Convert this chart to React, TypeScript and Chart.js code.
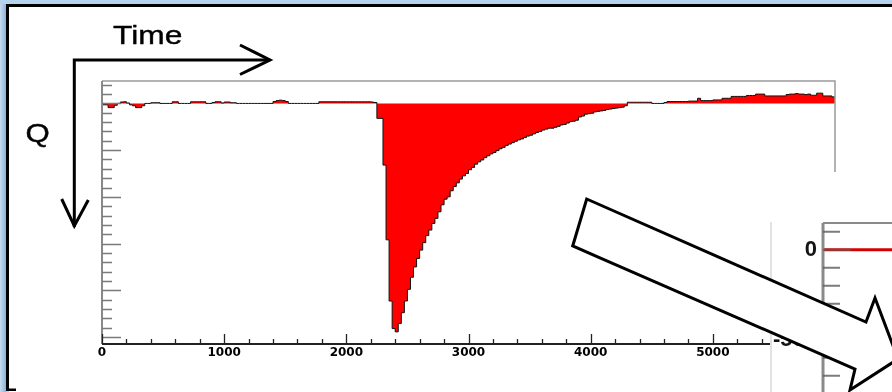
import React, { useEffect, useRef } from 'react';
import { Chart, registerables } from 'chart.js';

Chart.register(...registerables);

// ---------- main histogram data ----------
const timeStart = 0;
const binWidth = 25;
const qValues: number[] = [
  // 0 - 2225 : baseline
  -0.3, -0.3, -0.9, -0.9, -0.4, 0, 0.3, 0.35, 0.1, -0.3, -0.5, -0.9, -0.9, -0.5,
  0, 0, 0.15, 0.15, 0.15, 0, 0, 0, 0, 0.35, 0.35, 0, 0, 0,
  0, 0.35, 0.35, 0.35, 0.35, 0.35, 0, 0, 0.2, 0.35, 0.35, 0.1, 0.3, 0.3,
  0.15, 0.15, 0, 0, 0, 0, 0, 0, 0, 0, 0, 0, 0, 0,
  0.4, 0.6, 0.7, 0.6, 0.4,
  0, 0, 0, 0, 0, 0, 0, 0, 0, 0,
  0.35, 0.35, 0.35, 0.35, 0.35, 0.35, 0.35, 0.35, 0.35, 0.35, 0.35, 0.35, 0.35, 0.35, 0.35, 0.35, 0.35, 0.3, 0.2,
  // 2250 - 3075 : pulse
  -3.2, -3.2, -13.2, -29.2, -42.3, -48.2, -48.9, -47.1, -44.8, -42.3, -39.8, -37.2, -35, -33.2, -31.4, -29.8, -28.3,
  -27.1, -25.7, -24.6, -23.2, -21.7, -20.5, -20, -18.7, -17.8, -17, -16.2, -15.5, -15, -14.2, -13.7, -13, -12.5,
  // 3100 - 4275 : tail
  -12.1, -11.6, -11.2, -10.8, -10.5, -10.1, -9.7, -9.4, -9.0, -8.7, -8.4, -8.1, -7.8, -7.6, -7.3, -7.0, -6.8, -6.5, -6.2, -6.0,
  -5.7, -5.5, -5.3, -5.3, -5.1, -4.9, -4.6, -4.5, -4.2, -3.9, -3.8, -3.6,
  -2.9, -2.7, -2.3, -2.2, -2.1, -1.8, -1.7, -1.6, -1.5, -1.3, -1.2, -1.1, -1.0, -0.9, -0.8, -0.5,
  // 4300 - 5975 : overshoot
  0.25, 0.25, 0.25, 0.25, 0.25, 0.25, 0.25, 0.25,
  0, 0, 0, 0, 0.2,
  0.4, 0.4, 0.4, 0.4, 0.4, 0.4, 0.4,
  0.5, 0.5, 0.5, 1.1, 0.6, 0.6, 0.6, 0.6,
  0.75, 0.75, 0.75, 1.1, 1.1, 1.1,
  1.5, 1.5, 1.5, 1.5, 1.5, 1.7, 1.7, 1.7, 2.0, 2.0, 2.0,
  1.6, 1.6, 1.6, 1.6, 1.6, 1.6, 1.6,
  1.9, 2.0, 2.0, 2.1, 2.0, 2.0, 1.9, 2.0,
  1.75, 1.75, 2.2, 2.2, 1.6, 1.6, 1.6, 1.4,
];
const xRange = [0, 6000];
const xTickLabels = [0, 1000, 2000, 3000, 4000, 5000];
const xMinorStep = 200;
const xMajorStep = 1000;
const yRange = [-51.5, 4.8];
const yMinorStep = 2;
const yMajorStep = 10;

// ---------- inset (partially visible second plot) ----------
const insetTimes = [0, 6000];
const insetValues = [0, 0];
const insetTickLabels = [0, -500];
const insetRange = [-845, 148];
const insetMinorStep = 100;
const insetMajorStep = 500;

const slidePlugin = {
  id: 'slideFrame',
  beforeDraw(chart: any) {
    const { ctx, width, height } = chart;
    ctx.save();
    ctx.fillStyle = '#b6d3ee';
    ctx.fillRect(0, 0, width, height);
    const g = ctx.createLinearGradient(0, 0, 6, 0);
    g.addColorStop(0, '#c6dcf2');
    g.addColorStop(1, '#8db2d8');
    ctx.fillStyle = g;
    ctx.fillRect(0, 4, 6, height - 4);
    ctx.fillStyle = '#000';
    ctx.fillRect(6, 4, width - 6, 3);
    ctx.fillRect(6, 4, 3, 387);
    ctx.fillStyle = '#fff';
    ctx.fillRect(9, 7, width - 9, height - 7);
    ctx.fillStyle = '#000';
    ctx.fillRect(6, 388.5, 10, 2.5);
    ctx.restore();
  },
  afterDatasetsDraw(chart: any) {
    const { ctx, chartArea: ca } = chart;
    const xs = chart.scales.x;
    const ys = chart.scales.y;
    ctx.save();
    ctx.lineCap = 'butt';
    ctx.strokeStyle = '#9a9a9a';
    ctx.lineWidth = 1.5;
    ctx.beginPath();
    ctx.moveTo(ca.left, ca.top);
    ctx.lineTo(ca.right, ca.top);
    ctx.lineTo(ca.right, ca.bottom);
    ctx.stroke();
    ctx.strokeStyle = '#8a8a8a';
    ctx.lineWidth = 2;
    ctx.beginPath();
    ctx.moveTo(ca.left, ca.top);
    ctx.lineTo(ca.left, ca.bottom);
    ctx.stroke();
    ctx.lineWidth = 1.5;
    ctx.strokeStyle = '#7a7a7a';
    ctx.beginPath();
    for (let v = Math.ceil(ys.min / yMinorStep) * yMinorStep; v <= ys.max; v += yMinorStep) {
      const y = Math.round(ys.getPixelForValue(v)) + 0.5;
      const len = Math.abs(v % yMajorStep) < 1e-6 ? 19 : 10;
      ctx.moveTo(ca.left, y);
      ctx.lineTo(ca.left + len, y);
    }
    ctx.stroke();
    ctx.strokeStyle = '#222';
    ctx.lineWidth = 2;
    ctx.beginPath();
    ctx.moveTo(ca.left, ca.bottom);
    ctx.lineTo(ca.right, ca.bottom);
    ctx.stroke();
    ctx.lineWidth = 1.3;
    ctx.beginPath();
    for (let v = xs.min; v <= xs.max; v += xMinorStep) {
      const x = Math.round(xs.getPixelForValue(v)) + 0.5;
      const len = v % xMajorStep === 0 ? 10 : 5;
      ctx.moveTo(x, ca.bottom);
      ctx.lineTo(x, ca.bottom - len);
    }
    ctx.stroke();
    ctx.restore();
  },
};

const insetPlugin = {
  id: 'insetFrame',
  beforeDraw(chart: any) {
    const { ctx, width, height, chartArea: ca } = chart;
    ctx.save();
    ctx.fillStyle = '#fff';
    ctx.fillRect(0, 0, width, height);
    ctx.strokeStyle = '#e2e2e2';
    ctx.lineWidth = 2;
    ctx.beginPath();
    ctx.moveTo(1, ca.top - 1);
    ctx.lineTo(1, height);
    ctx.stroke();
    ctx.restore();
  },
  afterDatasetsDraw(chart: any) {
    const { ctx, chartArea: ca } = chart;
    const ys = chart.scales.y;
    ctx.save();
    ctx.strokeStyle = '#8a8a8a';
    ctx.lineWidth = 2;
    ctx.beginPath();
    ctx.moveTo(ca.right, ca.top);
    ctx.lineTo(ca.left, ca.top);
    ctx.stroke();
    ctx.lineWidth = 3;
    ctx.beginPath();
    ctx.moveTo(ca.left, ca.top);
    ctx.lineTo(ca.left, ca.bottom);
    ctx.stroke();
    ctx.strokeStyle = 'rgba(90,90,90,0.8)';
    ctx.lineWidth = 2;
    ctx.beginPath();
    for (let v = Math.ceil(ys.min / insetMinorStep) * insetMinorStep; v <= ys.max; v += insetMinorStep) {
      const y = ys.getPixelForValue(v);
      const len = Math.abs(v % insetMajorStep) < 1e-6 ? 28 : 17;
      ctx.moveTo(ca.left, y);
      ctx.lineTo(ca.left + len, y);
    }
    ctx.stroke();
    ctx.restore();
  },
};

export default function App() {
  const mainRef = useRef<HTMLCanvasElement | null>(null);
  const insetRef = useRef<HTMLCanvasElement | null>(null);

  useEffect(() => {
    const points = qValues.map((v, i) => ({ x: timeStart + i * binWidth, y: v }));
    points.push({ x: timeStart + qValues.length * binWidth, y: qValues[qValues.length - 1] });

    const main = new Chart(mainRef.current as HTMLCanvasElement, {
      type: 'line',
      data: {
        datasets: [
          {
            data: points,
            stepped: true,
            borderColor: '#111',
            borderWidth: 1,
            backgroundColor: '#ff0000',
            fill: 'origin',
            pointRadius: 0,
            pointHoverRadius: 0,
          } as any,
        ],
      },
      options: {
        responsive: false,
        animation: false,
        devicePixelRatio: 1,
        events: [],
        layout: { padding: { left: 102, top: 81, right: 57, bottom: 0 } },
        plugins: { legend: { display: false }, tooltip: { enabled: false } },
        scales: {
          x: {
            type: 'linear',
            min: xRange[0],
            max: xRange[1],
            afterBuildTicks: (s: any) => {
              s.ticks = xTickLabels.map((v) => ({ value: v }));
            },
            afterFit: (s: any) => {
              s.height = 48;
            },
            ticks: {
              callback: (v: any) => String(v),
              font: { family: 'DejaVu Sans', size: 12, weight: 'bold' },
              color: '#000',
              padding: 2,
              maxRotation: 0,
              autoSkip: false,
            },
            grid: { display: false, drawTicks: false },
            border: { display: false },
          },
          y: { type: 'linear', display: false, min: yRange[0], max: yRange[1] },
        },
      } as any,
      plugins: [slidePlugin],
    });

    const inset = new Chart(insetRef.current as HTMLCanvasElement, {
      type: 'line',
      data: {
        datasets: [
          {
            data: insetTimes.map((t, i) => ({ x: t, y: insetValues[i] })),
            borderColor: '#d40000',
            borderWidth: 3,
            pointRadius: 0,
            fill: false,
          } as any,
        ],
      },
      options: {
        responsive: false,
        animation: false,
        devicePixelRatio: 1,
        events: [],
        layout: { padding: { left: 0, top: 51, right: 0, bottom: 20 } },
        plugins: { legend: { display: false }, tooltip: { enabled: false } },
        scales: {
          x: { type: 'linear', display: false, min: xRange[0], max: xRange[1] },
          y: {
            type: 'linear',
            min: insetRange[0],
            max: insetRange[1],
            afterBuildTicks: (s: any) => {
              s.ticks = insetTickLabels.map((v) => ({ value: v }));
            },
            afterFit: (s: any) => {
              s.width = 53;
            },
            ticks: {
              callback: (v: any) => String(v),
              font: { family: 'Liberation Sans', size: 22, weight: 'bold' },
              color: '#151515',
              padding: 6,
            },
            grid: { display: false, drawTicks: false },
            border: { display: false },
          },
        },
      } as any,
      plugins: [insetPlugin],
    });

    return () => {
      main.destroy();
      inset.destroy();
    };
  }, []);

  const font = 'Liberation Sans, Arial, sans-serif';
  return (
    <div style={{ position: 'fixed', left: 0, top: 0, width: 892, height: 392, overflow: 'hidden', background: '#fff' }}>
      <canvas ref={mainRef} width={892} height={392} style={{ position: 'absolute', left: 0, top: 0, width: 892, height: 392 }} />
      <canvas ref={insetRef} width={122} height={250} style={{ position: 'absolute', left: 770, top: 172, width: 122, height: 250 }} />
      <svg width={892} height={392} style={{ position: 'absolute', left: 0, top: 0 }}>
        <text transform="translate(113,44.3) scale(1.22,1)" fontFamily={font} fontSize={26} fill="#000" stroke="#000" strokeWidth={0.4}>Time</text>
        <text transform="translate(25.5,141.5) scale(1.2,1)" fontFamily={font} fontSize={26} fill="#000" stroke="#000" strokeWidth={0.4}>Q</text>
        <path d="M74.3,227 L74.3,60 L270,60" fill="none" stroke="#000" strokeWidth={3} strokeLinejoin="miter" />
        <polyline points="240,45 270,60 240,74.5" fill="none" stroke="#000" strokeWidth={3} strokeLinejoin="miter" />
        <polyline points="61.7,199 74.3,226 88.3,200" fill="none" stroke="#000" strokeWidth={3} strokeLinejoin="miter" />
        <polygon
          points="586.7,199 866,322 875,298 898,359 850,390 855,369 572.7,246"
          fill="#fff"
          stroke="#000"
          strokeWidth={3}
          strokeLinejoin="miter"
        />
      </svg>
    </div>
  );
}
